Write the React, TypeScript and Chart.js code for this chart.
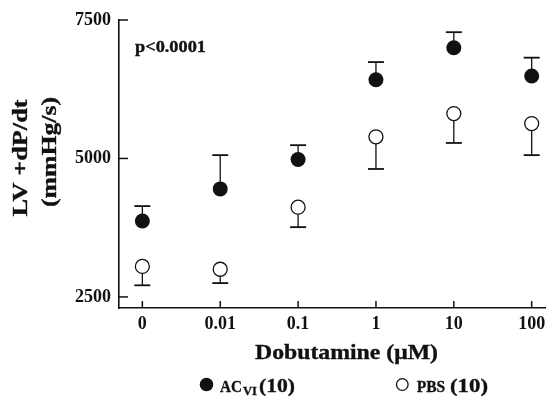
import { useEffect, useRef } from "react";
import { Chart, registerables } from "chart.js";

Chart.register(...registerables);

// ---- data ----
const doses = ["0", "0.01", "0.1", "1", "10", "100"];
const acMean = [3870, 4450, 4980, 6420, 7000, 6490];
const acSem = [270, 610, 260, 320, 280, 330];
const pbsMean = [3050, 3000, 4120, 5390, 5810, 5630];
const pbsSem = [340, 250, 360, 580, 530, 570];
const yTicks = [2500, 5000, 7500];
const yMin = 2300;
const yMax = 7500;
const pValueText = "p<0.0001";
const xTitle = "Dobutamine (\u03BCM)";
const yTitle = ["LV +dP/dt", "(mmHg/s)"];
const legendAC = ["AC", "VI", "(10)"];
const legendPBS = ["PBS", "(10)"];

const FONT = "'Liberation Serif', 'Times New Roman', serif";
const INK = "#111111";

function stretchText(
  ctx: CanvasRenderingContext2D,
  text: string,
  x: number,
  y: number,
  size: number,
  targetWidth: number,
  align: "left" | "center" = "left",
  rotate = false
) {
  ctx.save();
  ctx.font = `bold ${size}px ${FONT}`;
  const w = ctx.measureText(text).width;
  const s = targetWidth / w;
  ctx.translate(x, y);
  if (rotate) ctx.rotate(-Math.PI / 2);
  ctx.scale(s, 1);
  ctx.textAlign = "left";
  ctx.textBaseline = "alphabetic";
  ctx.fillStyle = INK;
  ctx.strokeStyle = INK;
  ctx.lineWidth = 0.35;
  const ox = align === "center" ? -w / 2 : 0;
  ctx.fillText(text, ox, 0);
  ctx.strokeText(text, ox, 0);
  ctx.restore();
}

function seg(ctx: CanvasRenderingContext2D, x1: number, y1: number, x2: number, y2: number, lw: number) {
  ctx.beginPath();
  ctx.lineWidth = lw;
  ctx.moveTo(x1, y1);
  ctx.lineTo(x2, y2);
  ctx.stroke();
}

const decor = {
  id: "decor",
  beforeDatasetsDraw(chart: any) {
    const { ctx, chartArea } = chart;
    const x = chart.scales.x;
    const y = chart.scales.y;
    ctx.save();
    ctx.strokeStyle = INK;
    const cap = 8;
    doses.forEach((_, i) => {
      const px = x.getPixelForValue(i);
      const c1 = y.getPixelForValue(acMean[i]);
      const t1 = y.getPixelForValue(acMean[i] + acSem[i]);
      seg(ctx, px, c1, px, t1, 1.3);
      seg(ctx, px - cap, t1, px + cap, t1, 1.8);
      const c2 = y.getPixelForValue(pbsMean[i]);
      const b2 = y.getPixelForValue(pbsMean[i] - pbsSem[i]);
      seg(ctx, px, c2, px, b2, 1.3);
      seg(ctx, px - cap, b2, px + cap, b2, 1.8);
    });
    // inward tick marks
    yTicks.forEach((v) => {
      const py = y.getPixelForValue(v);
      seg(ctx, chartArea.left, py, chartArea.left + 9, py, 1.5);
    });
    doses.forEach((_, i) => {
      const px = x.getPixelForValue(i);
      seg(ctx, px, chartArea.bottom, px, chartArea.bottom - 7, 1.5);
    });
    ctx.restore();
  },
  afterDraw(chart: any) {
    const { ctx } = chart;
    // p value
    stretchText(ctx, pValueText, 135, 52, 16.5, 71);
    // y title (rotated)
    stretchText(ctx, yTitle[0], 27, 158, 21, 117, "center", true);
    stretchText(ctx, yTitle[1], 56, 152, 21, 110, "center", true);
    // x title
    stretchText(ctx, xTitle, 346.5, 359, 21, 183, "center");
    // legend
    ctx.save();
    ctx.fillStyle = INK;
    ctx.beginPath();
    ctx.arc(206.5, 384.5, 6.8, 0, Math.PI * 2);
    ctx.fill();
    ctx.strokeStyle = INK;
    ctx.lineWidth = 1.3;
    ctx.beginPath();
    ctx.arc(402.3, 384.5, 5.8, 0, Math.PI * 2);
    ctx.stroke();
    ctx.restore();
    stretchText(ctx, legendAC[0], 220, 391.5, 17.5, 22);
    stretchText(ctx, legendAC[1], 243, 395, 13, 14);
    stretchText(ctx, legendAC[2], 259, 391.5, 19.5, 36);
    stretchText(ctx, legendPBS[0], 416.7, 391.5, 17.5, 28.5);
    stretchText(ctx, legendPBS[1], 450, 391.5, 19.5, 38);
  },
};

export default function App() {
  const ref = useRef<HTMLCanvasElement | null>(null);
  useEffect(() => {
    if (!ref.current) return;
    const chart = new Chart(ref.current, {
      type: "scatter",
      data: {
        datasets: [
          {
            label: "PBS (10)",
            data: pbsMean.map((v, i) => ({ x: i, y: v })),
            pointRadius: 7,
            pointBackgroundColor: "#ffffff",
            pointBorderColor: INK,
            pointBorderWidth: 1.3,
            showLine: false,
          },
          {
            label: "AC VI (10)",
            data: acMean.map((v, i) => ({ x: i, y: v })),
            pointRadius: 7.5,
            pointBackgroundColor: INK,
            pointBorderColor: INK,
            pointBorderWidth: 0,
            showLine: false,
          },
        ],
      },
      options: {
        animation: false,
        responsive: false,
        devicePixelRatio: 1,
        layout: { padding: { top: 20, right: 1, left: 0, bottom: 0 } },
        plugins: { legend: { display: false }, tooltip: { enabled: false } },
        scales: {
          x: {
            type: "linear",
            min: -0.3,
            max: 5.18,
            afterBuildTicks: (s: any) => {
              s.ticks = doses.map((_, i) => ({ value: i }));
            },
            afterFit: (s: any) => {
              s.height = 88;
            },
            ticks: {
              callback: (v: any) => doses[Math.round(Number(v))] ?? "",
              color: INK,
              padding: 6,
              font: { family: FONT, size: 18, weight: "bold" },
              maxRotation: 0,
              autoSkip: false,
            },
            grid: { display: false, drawTicks: false },
            border: { display: true, color: INK, width: 1.6 },
          },
          y: {
            min: yMin,
            max: yMax,
            afterBuildTicks: (s: any) => {
              s.ticks = yTicks.map((v) => ({ value: v }));
            },
            afterFit: (s: any) => {
              s.width = 119;
            },
            ticks: {
              color: INK,
              padding: 8,
              font: { family: FONT, size: 18, weight: "bold" },
              callback: (v: any) => String(v),
            },
            grid: { display: false, drawTicks: false },
            border: { display: true, color: INK, width: 1.6 },
          },
        },
      },
      plugins: [decor],
    });
    return () => chart.destroy();
  }, []);
  return (
    <div style={{ position: "fixed", left: 0, top: 0, width: 554, height: 396, background: "#fff" }}>
      <canvas ref={ref} width={554} height={396} style={{ display: "block" }} />
    </div>
  );
}
